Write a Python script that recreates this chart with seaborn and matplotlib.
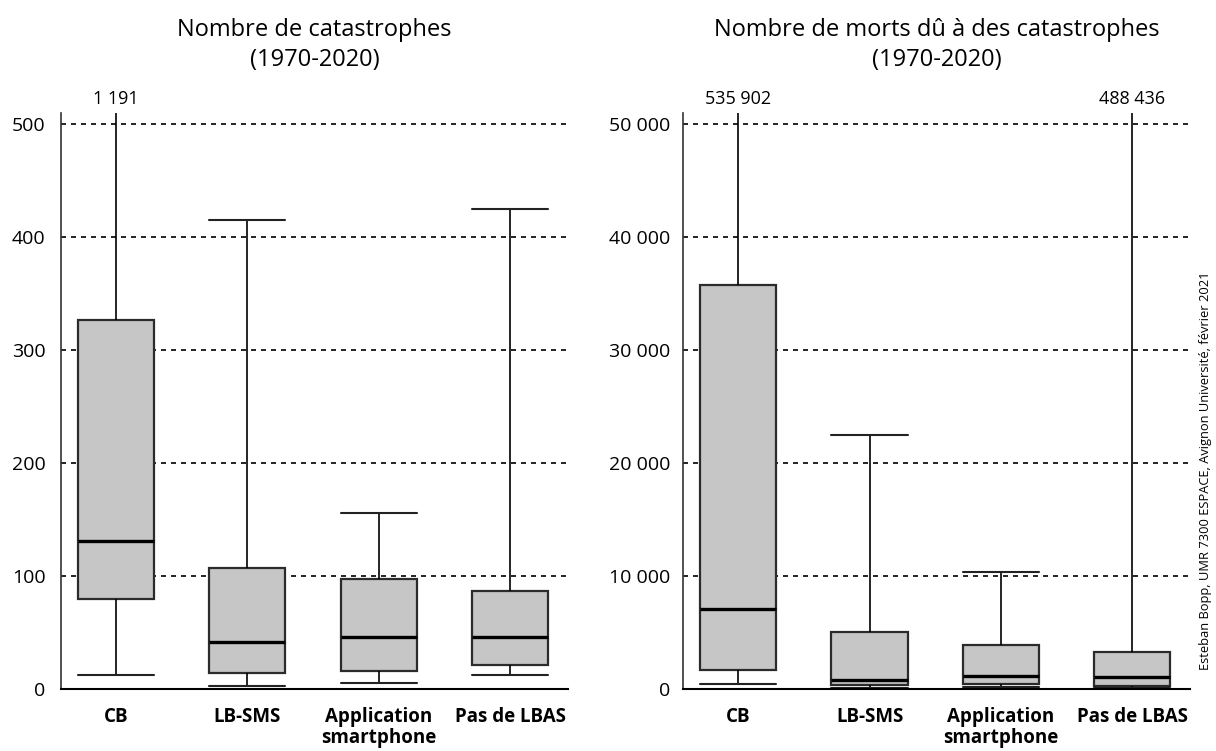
import pandas as pd
import matplotlib
matplotlib.use('Agg')
import matplotlib.pyplot as plt
import seaborn as sns

# categories (x axis)
categories = ['CB', 'LB-SMS', 'Application\nsmartphone', 'Pas de LBAS']

# five-number summaries: min, Q1, median, Q3, max
nb_catastrophes = {
    'CB': [12, 80, 131, 327, 1191],
    'LB-SMS': [3, 14, 42, 107, 415],
    'Application\nsmartphone': [5, 16, 46, 97, 156],
    'Pas de LBAS': [12, 21, 46, 87, 425],
}
nb_morts = {
    'CB': [410, 1700, 7100, 35800, 535902],
    'LB-SMS': [100, 350, 800, 5000, 22500],
    'Application\nsmartphone': [150, 440, 1150, 3870, 10400],
    'Pas de LBAS': [50, 260, 1100, 3280, 488436],
}

# values that go off the top of the axes
top_labels_left = {'CB': '1 191'}
top_labels_right = {'CB': '535 902', 'Pas de LBAS': '488 436'}

yticks_left = [0, 100, 200, 300, 400, 500]
yticklabels_left = ['0', '100', '200', '300', '400', '500']
yticks_right = [0, 10000, 20000, 30000, 40000, 50000]
yticklabels_right = ['0', '10 000', '20 000', '30 000', '40 000', '50 000']

titles = ['Nombre de catastrophes\n(1970-2020)',
          'Nombre de morts dû à des catastrophes\n(1970-2020)']
credit = 'Esteban Bopp, UMR 7300 ESPACE, Avignon Université, février 2021'

sns.set_style('white')
plt.rcParams['font.family'] = ['Open Sans', 'DejaVu Sans']
plt.rcParams['text.color'] = 'black'
plt.rcParams['xtick.color'] = 'black'
plt.rcParams['ytick.color'] = 'black'
plt.rcParams['axes.labelcolor'] = 'black'


def to_long(d):
    rows = []
    for cat in categories:
        for v in d[cat]:
            rows.append({'cat': cat, 'val': v})
    return pd.DataFrame(rows)


fig = plt.figure(figsize=(12.16, 7.51), dpi=100)
ax1 = fig.add_axes([0.050, 0.0826, 0.417, 0.767])
ax2 = fig.add_axes([0.5617, 0.0826, 0.417, 0.767])

setups = [
    (ax1, nb_catastrophes, 510, yticks_left, yticklabels_left, top_labels_left, titles[0], 'inout', 12),
    (ax2, nb_morts, 51000, yticks_right, yticklabels_right, top_labels_right, titles[1], 'out', 4),
]

for ax, data, ytop, yt, ytl, toplab, title, tdir, tlen in setups:
    df = to_long(data)
    sns.boxplot(data=df, x='cat', y='val', order=categories, ax=ax,
                whis=(0, 100), width=0.58, color='#c6c6c6', saturation=1,
                linecolor='#2b2b2b', linewidth=1.6, showfliers=False,
                capwidths=0.58,
                medianprops=dict(color='black', linewidth=2.4),
                whiskerprops=dict(color='black', linewidth=1.2),
                capprops=dict(color='#222222', linewidth=1.5))
    ax.set_ylim(0, ytop)
    ax.set_xlim(-0.42, 3.44)
    ax.set_yticks(yt)
    ax.set_yticklabels(ytl, fontsize=14)
    ax.set_xticks(range(len(categories)))
    ax.set_xticklabels(categories, fontsize=13.5, fontweight='bold', linespacing=1.05)
    ax.tick_params(axis='x', length=0, pad=13)
    ax.tick_params(axis='y', direction=tdir, length=tlen, width=1.3, color='black', pad=5)
    ax.set_xlabel('')
    ax.set_ylabel('')
    ax.set_axisbelow(True)
    for y in yt[1:]:
        ax.axhline(y, color='black', lw=1.2, ls=(0, (3, 3)), zorder=0)
    for s in ['top', 'right']:
        ax.spines[s].set_visible(False)
    ax.spines['left'].set_color('#333333')
    ax.spines['left'].set_linewidth(1.2)
    ax.spines['bottom'].set_color('black')
    ax.spines['bottom'].set_linewidth(1.5)
    for cat, txt in toplab.items():
        ax.text(categories.index(cat), 1.008, txt, transform=ax.get_xaxis_transform(),
                ha='center', va='bottom', fontsize=13)
    ax.set_title(title, fontsize=17, pad=34, linespacing=1.3)

fig.text(0.991, 0.373, credit, rotation=90, ha='center', va='center', fontsize=9.3)

plt.savefig('out.png', dpi=100)
